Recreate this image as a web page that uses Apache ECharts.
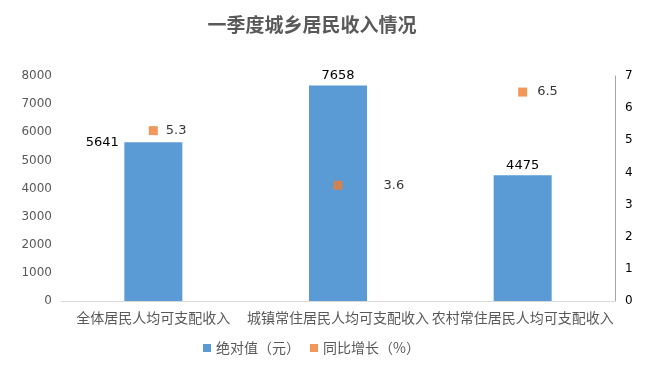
<!DOCTYPE html>
<html><head><meta charset="utf-8">
<script src="https://cdn.jsdelivr.net/npm/echarts@6/dist/echarts.min.js"></script>
<style>html,body{margin:0;padding:0;background:#fff}#c{width:653px;height:371px}</style>
</head><body><div id="c"></div>
<script>
const categories = ['全体居民人均可支配收入', '城镇常住居民人均可支配收入', '农村常住居民人均可支配收入'];
const absValues = [5641, 7658, 4475];
const growthValues = [5.3, 3.6, 6.5];
const leftTicks = [0, 1000, 2000, 3000, 4000, 5000, 6000, 7000, 8000];
const rightTicks = [0, 1, 2, 3, 4, 5, 6, 7];

const barLabelOffsets = [[-51, 12], [0, 2], [0, 2]];
const scatterLabelDist = [8, 41, 10];

const chart = echarts.init(document.getElementById('c'));
const font = '"Noto Sans CJK SC", "Noto Sans", sans-serif';
chart.setOption({
  animation: false,
  title: {
    text: '一季度城乡居民收入情况', left: 307, top: 10, textAlign: 'center',
    textStyle: { fontSize: 19, fontWeight: 'bold', color: '#595959', fontFamily: font }
  },
  legend: {
    bottom: 11, left: 198, itemWidth: 8, itemHeight: 8, itemGap: 10,
    textStyle: { fontSize: 14, color: '#595959', fontFamily: font },
    data: [{ name: '绝对值（元）', icon: 'rect' }, { name: '同比增长（%）', icon: 'rect' }]
  },
  grid: { left: 61, right: 38, top: 76, bottom: 70 },
  xAxis: {
    type: 'category', data: categories,
    axisLine: { lineStyle: { color: '#d9d9d9' } }, axisTick: { show: false },
    axisLabel: { color: '#595959', fontSize: 14, fontFamily: font, margin: 10, interval: 0 }
  },
  yAxis: [{
    type: 'value', min: leftTicks[0], max: leftTicks[leftTicks.length - 1], interval: 1000,
    splitLine: { show: false }, axisLine: { show: false }, axisTick: { show: false },
    axisLabel: { color: '#595959', fontSize: 12, margin: 9, fontFamily: 'DejaVu Sans', formatter: v => String(v) }
  }, {
    type: 'value', min: rightTicks[0], max: rightTicks[rightTicks.length - 1], interval: 1,
    splitLine: { show: false }, axisLine: { show: true, lineStyle: { color: '#a6a6a6' } }, axisTick: { show: false },
    axisLabel: { color: '#000', fontSize: 12, margin: 10, fontFamily: 'DejaVu Sans', formatter: v => String(v) }
  }],
  series: [{
    name: '绝对值（元）', type: 'bar', barWidth: 58, yAxisIndex: 0,
    itemStyle: { color: '#5B9BD5' },
    data: absValues.map((v, i) => ({
      value: v,
      label: { show: true, position: 'top', offset: barLabelOffsets[i], color: '#000', fontSize: 13, fontFamily: 'DejaVu Sans', formatter: p => String(p.value) }
    }))
  }, {
    name: '同比增长（%）', type: 'scatter', yAxisIndex: 1, symbol: 'rect', symbolSize: 9,
    itemStyle: { color: '#ED7D31' },
    data: growthValues.map((v, i) => ({
      value: v,
      label: { show: true, position: 'right', distance: scatterLabelDist[i], color: '#000', fontSize: 13, fontFamily: 'DejaVu Sans', formatter: p => String(p.value) }
    }))
  }]
});
</script></body></html>
